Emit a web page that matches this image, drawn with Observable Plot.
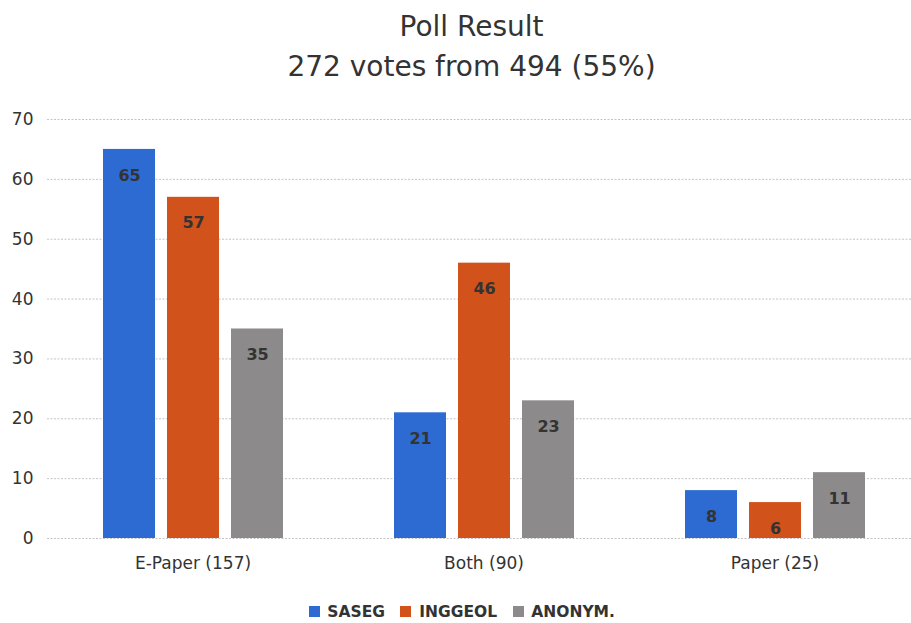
<!DOCTYPE html>
<html>
<head>
<meta charset="utf-8">
<script src="https://cdn.jsdelivr.net/npm/d3@7"></script>
<script src="https://cdn.jsdelivr.net/npm/@observablehq/plot@0.6"></script>
<style>
  html, body { margin: 0; padding: 0; background: #fff; }
  body { width: 911px; height: 623px; overflow: hidden; font-family: "DejaVu Sans", sans-serif; color: #333; }
  #title { height: 95px; text-align: center; padding-left: 32px; box-sizing: border-box; }
  #title .t1 { font-size: 28px; line-height: 30px; padding-top: 12px; }
  #title .t2 { font-size: 28px; line-height: 30px; padding-top: 10px; }
  #chart svg { display: block; }
  #legend { display: flex; justify-content: center; margin-top: 17px; padding-left: 28px; }
</style>
</head>
<body>
<div id="title"><div class="t1">Poll Result</div><div class="t2">272 votes from 494 (55%)</div></div>
<div id="chart"></div>
<div id="legend"></div>
<script>
const groups = ["E-Paper (157)", "Both (90)", "Paper (25)"];
const series = ["SASEG", "INGGEOL", "ANONYM."];
const saseg = [65, 21, 8];
const inggeol = [57, 46, 6];
const anonym = [35, 23, 11];
const colors = ["#2d6bd3", "#d2521c", "#8c8a8a"];
const yTicks = [0, 10, 20, 30, 40, 50, 60, 70];

const valuesBySeries = [saseg, inggeol, anonym];
const data = [];
groups.forEach((g, gi) => {
  series.forEach((s, si) => {
    data.push({group: g, series: s, value: valuesBySeries[si][gi]});
  });
});

const font = "DejaVu Sans, sans-serif";

const plot = Plot.plot({
  width: 911,
  height: 483,
  marginTop: 24,
  marginBottom: 40,
  marginLeft: 47,
  marginRight: -9,
  style: {fontFamily: font, fontSize: "17px", color: "#333", background: "transparent"},
  fx: {domain: groups, padding: 0, label: null, tickSize: 0, tickPadding: 18},
  x: {domain: series, axis: null, paddingInner: 0.194, paddingOuter: 0.853},
  y: {domain: [0, 70], ticks: yTicks, tickSize: 0, tickPadding: 14, label: null},
  color: {domain: series, range: colors},
  marks: [
    Plot.gridY(yTicks, {stroke: "#c4c4c4", strokeOpacity: 1, strokeDasharray: "2 1.5", strokeWidth: 1}),
    Plot.barY(data, {fx: "group", x: "series", y: "value", fill: "series"}),
    Plot.text(data, {fx: "group", x: "series", y: "value", text: d => String(d.value), dy: 26,
      fill: "#333", fontSize: 16, fontWeight: "bold", fontFamily: font})
  ]
});
document.getElementById("chart").appendChild(plot);

const legend = Plot.legend({
  color: {domain: series, range: colors},
  swatchSize: 11,
  swatchWidth: 11,
  swatchHeight: 11,
  style: {fontFamily: font, fontSize: "15.5px", fontWeight: "bold", color: "#333"}
});
document.getElementById("legend").appendChild(legend);
</script>
</body>
</html>
